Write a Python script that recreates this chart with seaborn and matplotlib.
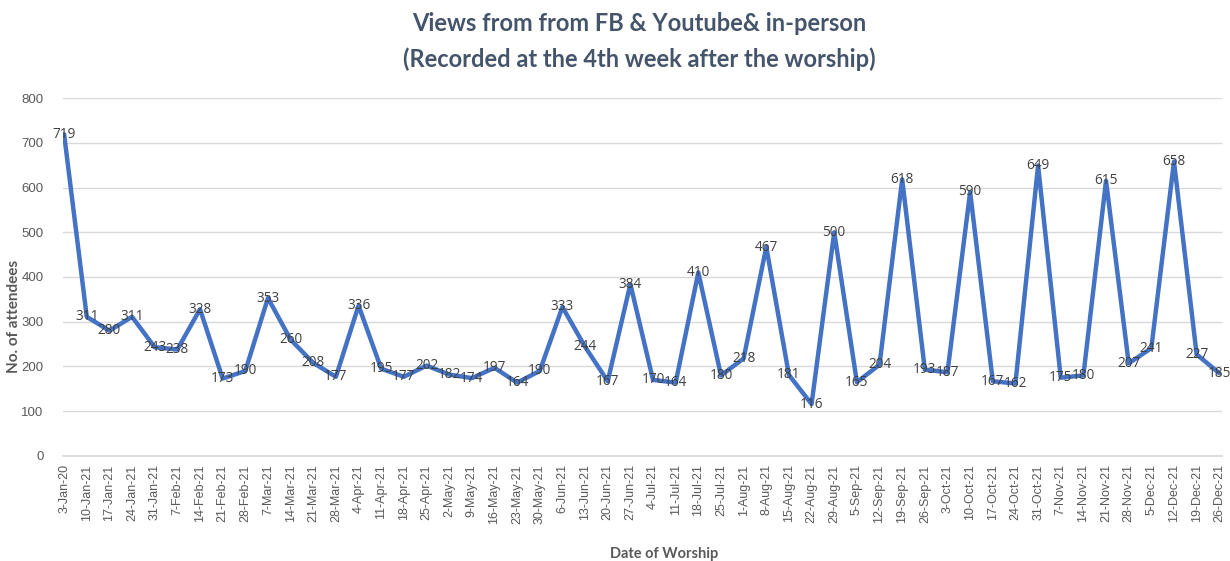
import numpy as np
import pandas as pd
import seaborn as sns
import matplotlib.pyplot as plt

dates = ['3-Jan-20', '10-Jan-21', '17-Jan-21', '24-Jan-21', '31-Jan-21', '7-Feb-21', '14-Feb-21',
         '21-Feb-21', '28-Feb-21', '7-Mar-21', '14-Mar-21', '21-Mar-21', '28-Mar-21', '4-Apr-21',
         '11-Apr-21', '18-Apr-21', '25-Apr-21', '2-May-21', '9-May-21', '16-May-21', '23-May-21',
         '30-May-21', '6-Jun-21', '13-Jun-21', '20-Jun-21', '27-Jun-21', '4-Jul-21', '11-Jul-21',
         '18-Jul-21', '25-Jul-21', '1-Aug-21', '8-Aug-21', '15-Aug-21', '22-Aug-21', '29-Aug-21',
         '5-Sep-21', '12-Sep-21', '19-Sep-21', '26-Sep-21', '3-Oct-21', '10-Oct-21', '17-Oct-21',
         '24-Oct-21', '31-Oct-21', '7-Nov-21', '14-Nov-21', '21-Nov-21', '28-Nov-21', '5-Dec-21',
         '12-Dec-21', '19-Dec-21', '26-Dec-21']
views = [719, 311, 280, 311, 243, 238, 328, 173, 190, 353, 260, 208, 177, 336, 195, 177, 202,
         182, 174, 197, 164, 190, 333, 244, 167, 384, 170, 164, 410, 180, 218, 467, 181, 116,
         500, 165, 204, 618, 193, 187, 590, 167, 162, 649, 175, 180, 615, 207, 241, 658, 227, 185]

df = pd.DataFrame({'pos': np.arange(len(dates)), 'date': dates, 'views': views})

sns.set_theme(style="white")
plt.rcParams['font.family'] = ['Liberation Sans', 'DejaVu Sans']

fig = plt.figure(figsize=(12.3, 5.61), dpi=100)
ax = fig.add_axes([0.0512, 0.1872, 0.9423, 0.6381])

sns.lineplot(data=df, x='pos', y='views', color='#4472C4', linewidth=3.2, ax=ax)

# data labels sit centred on the points (Excel style)
for p, v in zip(df['pos'], df['views']):
    ax.text(p, v, str(v), ha='center', va='center', fontsize=9.8, color='#404040',
            family=['Open Sans', 'DejaVu Sans'])

ax.set_xlim(-0.05, len(dates) - 0.88)
ax.set_ylim(0, 800)
ax.set_yticks(range(0, 801, 100))
ax.set_xticks(df['pos'])
ax.set_xticklabels(dates, rotation=90, fontsize=9, color='#595959')
ax.tick_params(axis='y', labelsize=9.5, colors='#595959', length=0, pad=14)
ax.tick_params(axis='x', length=4, color='#D9D9D9', width=1, pad=2, direction='out')
ax.grid(axis='y', color='#D9D9D9', linewidth=1)
for s in ['top', 'right', 'left']:
    ax.spines[s].set_visible(False)
ax.spines['bottom'].set_color('#D9D9D9')

ax.set_ylabel('No. of attendees', fontsize=11, fontweight='bold', color='#595959',
              family=['Lato', 'DejaVu Sans'])
ax.yaxis.set_label_coords(-0.036, 0.39)
ax.set_xlabel('Date of Worship', fontsize=10.5, fontweight='bold', color='#595959',
              family=['Lato', 'DejaVu Sans'])
ax.xaxis.set_label_coords(0.519, -0.255)

fig.text(0.52, 0.958, 'Views from from FB & Youtube& in-person', ha='center', va='center',
         fontsize=17, fontweight='bold', color='#44546A', family=['Lato', 'DejaVu Sans'])
fig.text(0.52, 0.895, '(Recorded at the 4th week after the worship)', ha='center', va='center',
         fontsize=17, fontweight='bold', color='#44546A', family=['Lato', 'DejaVu Sans'])

fig.savefig('out.png', dpi=100)
